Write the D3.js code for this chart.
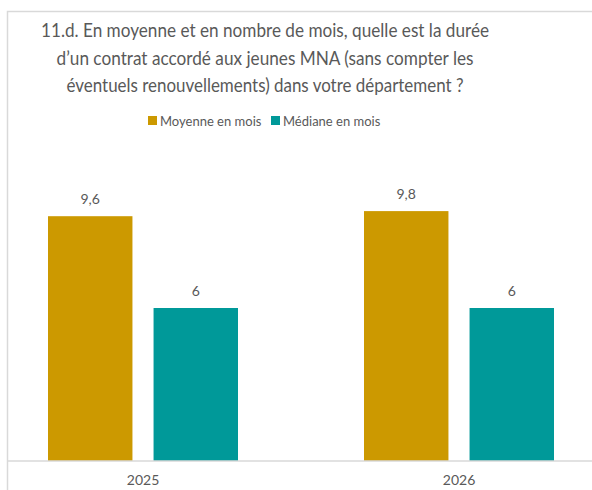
<!DOCTYPE html>
<html>
<head>
<meta charset="utf-8">
<script src="https://cdn.jsdelivr.net/npm/d3@7"></script>
<style>
  body { margin: 0; background: #ffffff; }
  svg text { font-family: Lato, "Open Sans", sans-serif; }
</style>
</head>
<body>
<div id="chart"></div>
<script>
// data
var years = ["2025", "2026"];
var seriesNames = ["Moyenne en mois", "Médiane en mois"];
var moyenne = [9.6, 9.8];
var mediane = [6, 6];
var titleLines = [
  "11.d. En moyenne et en nombre de mois, quelle est la durée",
  "d’un contrat accordé aux jeunes MNA (sans compter les",
  "éventuels renouvellements) dans votre département ?"
];
var titleWidths = [448, 417, 397];

var width = 592;
var height = 490;
var colors = ["#cc9900", "#009999"];
var textColor = "#595959";

var svg = d3.select("#chart").append("svg")
  .attr("width", width)
  .attr("height", height);

// 1. chart frame (cropped on the right and bottom)
svg.append("path")
  .attr("d", "M7.5," + height + "V11.5H" + width)
  .attr("fill", "none")
  .attr("stroke", "#d9d9d9")
  .attr("stroke-width", 1.5);

// 2. title
svg.append("g").selectAll("text").data(titleLines)
  .enter().append("text")
  .attr("x", 265)
  .attr("y", function (d, i) { return 37 + i * 27.5; })
  .attr("text-anchor", "middle")
  .attr("font-size", 19)
  .attr("textLength", function (d, i) { return titleWidths[i]; })
  .attr("lengthAdjust", "spacingAndGlyphs")
  .attr("fill", textColor)
  .text(function (d) { return d; });

// 3. legend
var legend = svg.append("g").attr("transform", "translate(148,121)");
var legendX = [0, 123];
seriesNames.forEach(function (name, i) {
  var g = legend.append("g").attr("transform", "translate(" + legendX[i] + ",0)");
  g.append("rect")
    .attr("x", 0).attr("y", -5)
    .attr("width", 9).attr("height", 9)
    .attr("fill", colors[i]);
  g.append("text")
    .attr("x", 12).attr("y", 0)
    .attr("dy", "0.35em")
    .attr("font-size", 13)
    .attr("fill", textColor)
    .text(name);
});

// 4. scales
var x0 = d3.scaleBand()
  .domain(years)
  .range([-15, 617]);
var x1 = d3.scaleBand()
  .domain(seriesNames)
  .range([0, 190])
  .paddingInner(0.2);
var y = d3.scaleLinear()
  .domain([0, 12])
  .range([461, 155]);

var dataSet = [];
years.forEach(function (yr, i) {
  dataSet.push({ year: yr, s: seriesNames[0], v: moyenne[i], c: colors[0] });
  dataSet.push({ year: yr, s: seriesNames[1], v: mediane[i], c: colors[1] });
});

var groupOffset = (x0.bandwidth() - 190) / 2;

// 5. bars
svg.append("g").selectAll("rect").data(dataSet)
  .enter().append("rect")
  .attr("x", function (d) { return x0(d.year) + groupOffset + x1(d.s); })
  .attr("y", function (d) { return y(d.v); })
  .attr("width", x1.bandwidth())
  .attr("height", function (d) { return y(0) - y(d.v); })
  .attr("fill", function (d) { return d.c; });

// 6. data labels
svg.append("g").selectAll("text").data(dataSet)
  .enter().append("text")
  .attr("x", function (d) { return x0(d.year) + groupOffset + x1(d.s) + x1.bandwidth() / 2; })
  .attr("y", function (d) { return y(d.v) - 12; })
  .attr("text-anchor", "middle")
  .attr("font-size", 14)
  .attr("fill", textColor)
  .text(function (d) { return String(d.v).replace(".", ","); });

// 7. x axis
var xAxis = d3.axisBottom(x0).tickSize(0).tickPadding(14);
var axisG = svg.append("g")
  .attr("transform", "translate(0," + y(0) + ")")
  .call(xAxis);
axisG.select(".domain").attr("stroke", "#d9d9d9").attr("stroke-width", 1.5)
  .attr("d", "M7,0H" + width);
axisG.selectAll("text")
  .attr("font-size", 14)
  .attr("fill", textColor)
  .attr("font-family", "Lato, sans-serif");
</script>
</body>
</html>
